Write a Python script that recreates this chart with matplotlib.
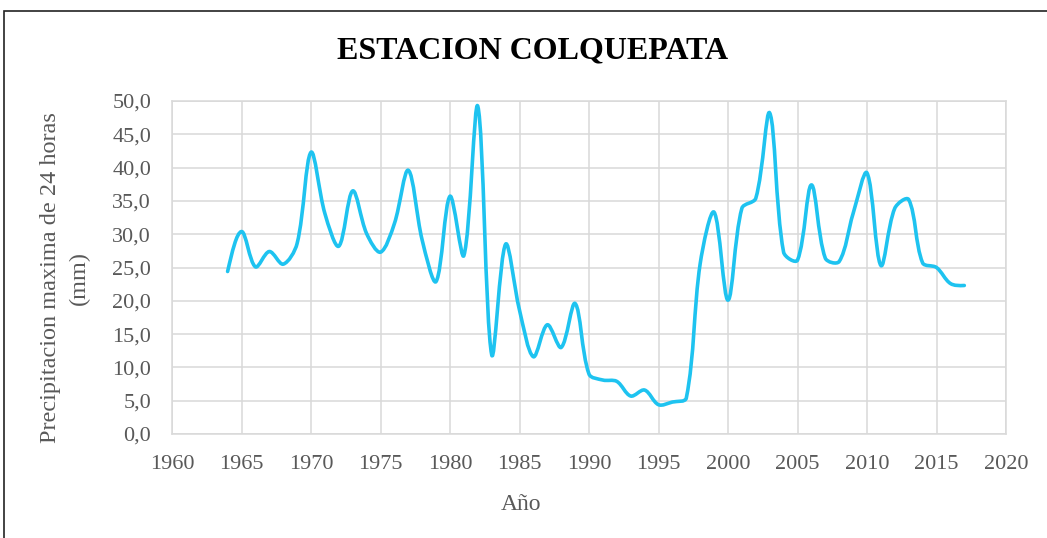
import numpy as np
import matplotlib.pyplot as plt
from matplotlib.path import Path
from matplotlib.patches import PathPatch, Rectangle
from matplotlib.ticker import FuncFormatter, MultipleLocator

plt.rcParams['font.family'] = ['Liberation Serif', 'DejaVu Serif']

# Datos (precipitacion maxima en 24 h, mm)
anios = np.arange(1964, 2018)
precip = [24.4, 30.4, 25.1, 27.4, 25.5, 28.6, 42.3, 33.1, 28.2, 36.5,
          30.1, 27.3, 31.6, 39.6, 29.1, 22.9, 35.7, 26.8, 49.2, 11.9,
          28.5, 18.6, 11.6, 16.4, 13.0, 19.6, 9.0, 8.1, 7.9, 5.7,
          6.6, 4.4, 4.8, 5.4, 25.6, 33.3, 20.1, 33.9, 35.4, 48.2,
          27.3, 26.1, 37.4, 26.4, 25.9, 33.1, 39.2, 25.3, 33.9, 35.2,
          25.7, 25.0, 22.6, 22.3]

color_linea = '#1EC3F0'
color_gris = '#595959'


def curva_suavizada(x, y, sx=13.9, sy=6.66):
    # linea suavizada parecida a la de Excel: bezier cubica entre puntos,
    # tangentes ponderadas por la longitud de los tramos (en pixeles)
    x = np.asarray(x, float)
    y = np.asarray(y, float)
    n = len(x)

    def dist(a, b):
        return np.hypot((x[b] - x[a]) * sx, (y[b] - y[a]) * sy)

    verts = [(x[0], y[0])]
    codes = [Path.MOVETO]
    for i in range(n - 1):
        i0 = max(i - 1, 0)
        i3 = min(i + 2, n - 1)
        d01, d12, d23 = dist(i0, i), dist(i, i + 1), dist(i + 1, i3)
        f1 = d12 / (d01 + d12) / 3 if d01 > 0 else 1 / 3
        f2 = d12 / (d12 + d23) / 3 if d23 > 0 else 1 / 3
        c1 = (x[i] + (x[i + 1] - x[i0]) * f1, y[i] + (y[i + 1] - y[i0]) * f1)
        c2 = (x[i + 1] - (x[i3] - x[i]) * f2, y[i + 1] - (y[i3] - y[i]) * f2)
        if d01 == 0:
            c1 = (x[i] + (c2[0] - x[i]) / 2, y[i] + (c2[1] - y[i]) / 2)
        if d23 == 0:
            c2 = (x[i + 1] + (c1[0] - x[i + 1]) / 2, y[i + 1] + (c1[1] - y[i + 1]) / 2)
        verts += [c1, c2, (x[i + 1], y[i + 1])]
        codes += [Path.CURVE4] * 3
    return Path(verts, codes)


fig = plt.figure(figsize=(10.47, 5.38), dpi=100)
ax = fig.add_axes([172 / 1047, 1 - 434 / 538, (1006 - 172) / 1047, (434 - 101) / 538])

ax.add_patch(PathPatch(curva_suavizada(anios, precip), facecolor='none',
                       edgecolor=color_linea, linewidth=2.6, capstyle='round',
                       joinstyle='round', zorder=3))

ax.set_xlim(1960, 2020)
ax.set_ylim(0, 50)
ax.xaxis.set_major_locator(MultipleLocator(5))
ax.yaxis.set_major_locator(MultipleLocator(5))
ax.yaxis.set_major_formatter(FuncFormatter(lambda v, p: f'{v:.1f}'.replace('.', ',')))

ax.grid(True, color='#D9D9D9', linewidth=1.1)
ax.set_axisbelow(True)
for s in ax.spines.values():
    s.set_color('#D9D9D9')
    s.set_linewidth(1.1)
ax.tick_params(length=0, labelsize=16, colors=color_gris)
ax.tick_params(axis='y', pad=15)
ax.tick_params(axis='x', pad=15)

fig.text(521 / 1047, 1 - 505 / 538, 'Año', fontsize=17, color=color_gris,
         ha='center', va='center')
fig.text(65 / 1047, 1 - 278 / 538, 'Precipitacion maxima de 24 horas\n(mm)',
         fontsize=17.5, color=color_gris, rotation=90, ha='center',
         va='center', linespacing=1.45, multialignment='center')
fig.text(533 / 1047, 1 - 51 / 538, 'ESTACION COLQUEPATA', fontsize=23,
         fontweight='bold', ha='center', va='center')

# marco del grafico
fig.patches.append(Rectangle((4 / 1047, -0.2), 1.2, 1.2 - 11 / 538,
                             transform=fig.transFigure, fill=False,
                             edgecolor='#222222', linewidth=1.2))

fig.savefig('out.png', dpi=100)
